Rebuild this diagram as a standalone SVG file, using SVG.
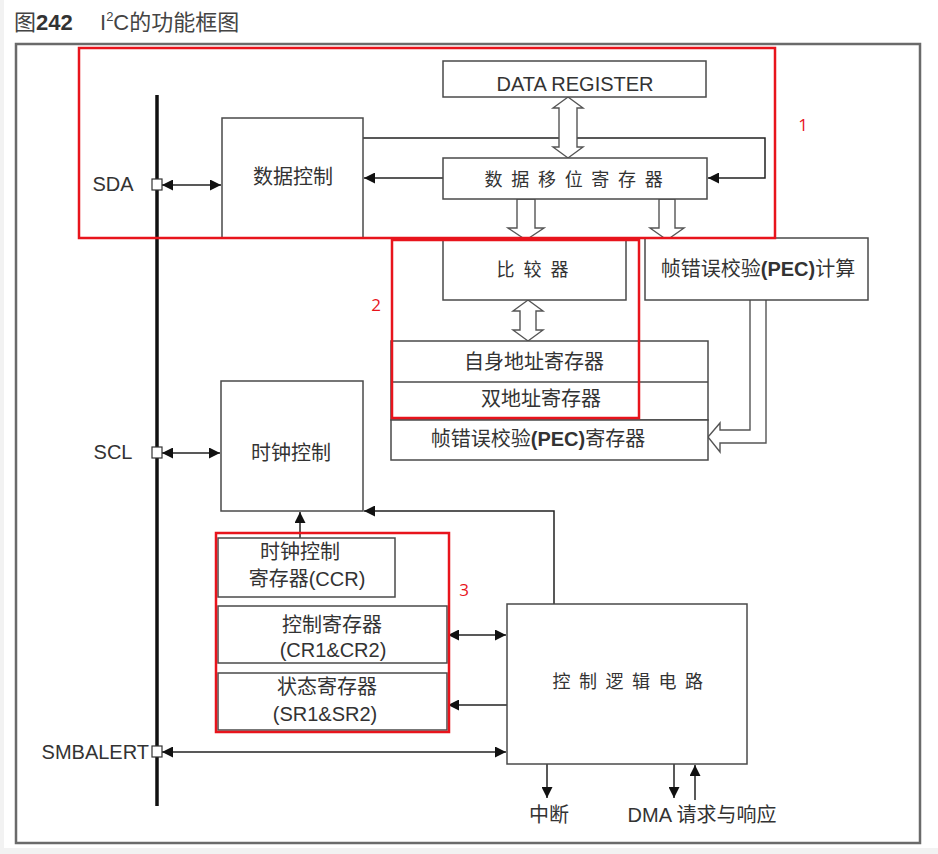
<svg xmlns="http://www.w3.org/2000/svg" width="938" height="854" viewBox="0 0 938 854">
<defs>
<style>
.box{fill:#fff;stroke:#4a4a4a;stroke-width:1.5}
.t{font-family:"Liberation Sans","Noto Sans CJK SC",sans-serif;font-size:20px;fill:#333;text-anchor:middle}
.c{fill:none;stroke:#222;stroke-width:1.5}
.hol{fill:#fff;stroke:#555;stroke-width:1.4;stroke-linejoin:miter}
.red{fill:none;stroke:#e8141c;stroke-width:2.5}
.rl{font-family:"Open Sans","Noto Sans",sans-serif;font-size:17px;fill:#e8141c;text-anchor:middle}
.ti{font-family:"Liberation Sans","Noto Sans CJK SC",sans-serif;font-size:22px;fill:#444}
</style>
<marker id="ah" viewBox="0 0 10 10" refX="10" refY="5" markerWidth="11" markerHeight="11" markerUnits="userSpaceOnUse" orient="auto-start-reverse">
<path d="M0,0 L10,5 L0,10 z" fill="#111"/>
</marker>
</defs>
<rect x="0" y="0" width="938" height="854" fill="#fff"/>
<rect x="0" y="848" width="938" height="6" fill="#f2f2f2"/>
<rect x="0" y="0" width="4" height="854" fill="#f2f2f2"/>
<g id="title">
<text class="ti" x="14" y="30">图<tspan font-weight="bold" fill="#333">242</tspan></text>
<text class="ti" x="100" y="30">I<tspan dy="-9" font-size="13">2</tspan><tspan dy="9">C的功能框图</tspan></text>
</g>
<rect id="frame" x="16" y="44" width="904" height="799" fill="none" stroke="#6a6a6a" stroke-width="2.5"/>

<g id="bus">
<line x1="157" y1="95" x2="157" y2="806" stroke="#111" stroke-width="3.5"/>
</g>

<g id="connectors">
<line class="c" x1="162" y1="185" x2="221" y2="185" marker-start="url(#ah)" marker-end="url(#ah)"/>
<line class="c" x1="162" y1="453" x2="220" y2="453" marker-start="url(#ah)" marker-end="url(#ah)"/>
<line class="c" x1="162" y1="752" x2="506" y2="752" marker-start="url(#ah)" marker-end="url(#ah)"/>
<line class="c" x1="443" y1="178" x2="364" y2="178" marker-end="url(#ah)"/>
<polyline class="c" points="363,138 765,138 765,178 708,178" marker-end="url(#ah)"/>
<polyline class="c" points="554,604 554,511 364,511" marker-end="url(#ah)"/>
<line class="c" x1="300" y1="538" x2="300" y2="512" marker-end="url(#ah)"/>
<line class="c" x1="448" y1="635" x2="506" y2="635" marker-start="url(#ah)" marker-end="url(#ah)"/>
<line class="c" x1="510" y1="705" x2="448" y2="705" marker-end="url(#ah)"/>
<line class="c" x1="547" y1="764" x2="547" y2="798" marker-end="url(#ah)"/>
<line class="c" x1="674" y1="764" x2="674" y2="798" marker-end="url(#ah)"/>
<line class="c" x1="695" y1="800" x2="695" y2="765" marker-end="url(#ah)"/>
<polygon class="hol" points="568,97 583,108 577,108 577,147 583,147 568,158 553,147 559,147 559,108 553,108"/>
<polygon class="hol" points="528,300 543,311 536,311 536,330 543,330 528,341 513,330 520,330 520,311 513,311"/>
<polygon class="hol" points="517,199 535,199 535,228 544,228 526,240 508,228 517,228"/>
<polygon class="hol" points="659,199 675,199 675,228 684,228 667,240 650,228 659,228"/>
<polyline class="hol" points="750,300 750,430 720,430 720,423 708,437 720,452 720,443 766,443 766,300"/>
</g>

<g id="pins">
<rect x="152" y="179" width="10" height="11" fill="#fff" stroke="#333" stroke-width="1.2"/>
<rect x="152" y="447" width="10" height="11" fill="#fff" stroke="#333" stroke-width="1.2"/>
<rect x="152" y="746" width="10" height="11" fill="#fff" stroke="#333" stroke-width="1.2"/>
<text class="t" x="113" y="191">SDA</text>
<text class="t" x="113" y="459">SCL</text>
<text class="t" x="149" y="759" style="text-anchor:end">SMBALERT</text>
</g>

<g id="data-ctrl">
<rect class="box" x="222" y="118" width="141" height="120"/>
<text class="t" x="293" y="184">数据控制</text>
</g>
<g id="data-register">
<rect class="box" x="443" y="61" width="263" height="36"/>
<text class="t" x="575" y="91">DATA REGISTER</text>
</g>
<g id="shift-register">
<rect class="box" x="443" y="158" width="264" height="41"/>
<text class="t" x="578" y="186" style="font-size:18px;letter-spacing:8.7px">数据移位寄存器</text>
</g>
<g id="comparator">
<rect class="box" x="443" y="238" width="183" height="62"/>
<text class="t" x="537" y="276" style="font-size:18px;letter-spacing:9px">比较器</text>
</g>
<g id="pec-calc">
<rect class="box" x="645" y="238" width="223" height="62"/>
<text class="t" x="758" y="276">帧错误校验<tspan font-weight="bold">(PEC)</tspan>计算</text>
</g>
<g id="addr-regs">
<rect class="box" x="391" y="341" width="317" height="79"/>
<line x1="391" y1="382" x2="708" y2="382" stroke="#4a4a4a" stroke-width="1.5"/>
<text class="t" x="534" y="369">自身地址寄存器</text>
<text class="t" x="541" y="406">双地址寄存器</text>
</g>
<g id="pec-reg">
<rect class="box" x="391" y="420" width="317" height="40"/>
<text class="t" x="538" y="446">帧错误校验<tspan font-weight="bold">(PEC)</tspan>寄存器</text>
</g>
<g id="clock-ctrl">
<rect class="box" x="221" y="381" width="142" height="130"/>
<text class="t" x="291" y="460">时钟控制</text>
</g>
<g id="ccr">
<rect class="box" x="218" y="538" width="177" height="59"/>
<text class="t" x="300" y="559">时钟控制</text>
<text class="t" x="307" y="586">寄存器(CCR)</text>
</g>
<g id="cr">
<rect class="box" x="218" y="606" width="229" height="57"/>
<text class="t" x="332" y="632">控制寄存器</text>
<text class="t" x="333" y="657">(CR1&amp;CR2)</text>
</g>
<g id="sr">
<rect class="box" x="218" y="673" width="229" height="57"/>
<text class="t" x="327" y="694">状态寄存器</text>
<text class="t" x="325" y="721">(SR1&amp;SR2)</text>
</g>
<g id="ctrl-logic">
<rect class="box" x="507" y="604" width="240" height="160"/>
<text class="t" x="632" y="688" style="font-size:18px;letter-spacing:8.5px">控制逻辑电路</text>
</g>
<g id="outputs">
<text class="t" x="549" y="822">中断</text>
<text class="t" x="702" y="822">DMA 请求与响应</text>
</g>

<g id="highlights">
<rect class="red" x="79" y="48" width="696" height="190"/>
<rect class="red" x="392" y="240" width="247" height="178"/>
<rect class="red" x="216" y="533" width="233" height="199"/>
<text class="rl" x="803" y="131">1</text>
<text class="rl" x="376" y="311">2</text>
<text class="rl" x="464" y="596">3</text>
</g>
</svg>
